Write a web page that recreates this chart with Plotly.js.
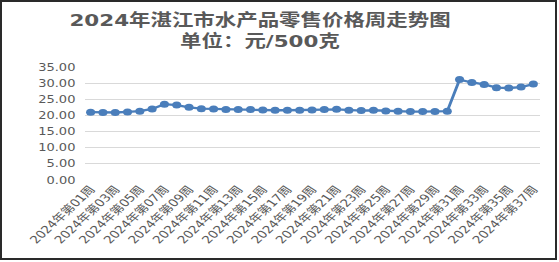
<!DOCTYPE html>
<html>
<head>
<meta charset="utf-8">
<script src="https://cdn.plot.ly/plotly-3.0.1.min.js"></script>
<style>
  html, body { margin: 0; padding: 0; background: #fff; }
  #wrap { position: relative; width: 559px; height: 262px; overflow: hidden; background: #fff; }
  #chart { position: absolute; left: 0; top: 0; width: 430px; height: 262px; transform: scaleX(1.3); transform-origin: 0 0; }
  #frame { position: absolute; left: 0; top: 0; width: 557px; height: 260px; box-sizing: border-box; border: 2px solid #2a2a2a; pointer-events: none; }
</style>
</head>
<body>
<div id="wrap">
  <div id="chart"></div>
  <div id="frame"></div>
</div>
<script>
const weeks = [
  "2024年第01周","2024年第02周","2024年第03周","2024年第04周","2024年第05周",
  "2024年第06周","2024年第07周","2024年第08周","2024年第09周","2024年第10周",
  "2024年第11周","2024年第12周","2024年第13周","2024年第14周","2024年第15周",
  "2024年第16周","2024年第17周","2024年第18周","2024年第19周","2024年第20周",
  "2024年第21周","2024年第22周","2024年第23周","2024年第24周","2024年第25周",
  "2024年第26周","2024年第27周","2024年第28周","2024年第29周","2024年第30周",
  "2024年第31周","2024年第32周","2024年第33周","2024年第34周","2024年第35周",
  "2024年第36周","2024年第37周"
];
const prices = [
  21.0, 20.9, 20.9, 21.1, 21.3, 22.0, 23.5, 23.2, 22.5, 22.1,
  22.0, 21.8, 21.8, 21.8, 21.7, 21.6, 21.6, 21.6, 21.7, 21.8,
  21.9, 21.6, 21.5, 21.6, 21.4, 21.3, 21.2, 21.2, 21.2, 21.3,
  31.1, 30.2, 29.6, 28.6, 28.5, 28.8, 29.7
];
const shownWeeks = weeks.filter((w, i) => i % 2 === 0);
const titleText = "2024年湛江市水产品零售价格周走势图<br>单位：元/500克";

const fontFam = "'DejaVu Sans', 'Noto Sans CJK SC', sans-serif";

Plotly.newPlot('chart', [{
  x: weeks,
  y: prices,
  type: 'scatter',
  mode: 'lines+markers',
  line: { color: '#4a7ebb', width: 2.3 },
  marker: { color: '#4a7ebb', size: 7 },
  hoverinfo: 'x+y'
}], {
  width: 430,
  height: 262,
  margin: { l: 65.4, r: 15.4, t: 66.7, b: 82 },
  paper_bgcolor: '#ffffff',
  plot_bgcolor: '#ffffff',
  showlegend: false,
  title: {
    text: titleText,
    x: 200 / 430,
    xref: 'container',
    xanchor: 'center',
    y: 1 - 26 / 262,
    yref: 'container',
    yanchor: 'top',
    font: { family: fontFam, size: 16.5, color: '#595959', weight: 'bold' }
  },
  xaxis: {
    type: 'category',
    tickmode: 'array',
    tickvals: shownWeeks,
    ticktext: shownWeeks,
    tickangle: -50,
    tickfont: { family: fontFam, size: 10.5, color: '#595959' },
    showgrid: false,
    showline: false,
    zeroline: false,
    ticks: '',
    range: [-0.5, 36.5],
    fixedrange: true
  },
  yaxis: {
    range: [0, 35],
    dtick: 5,
    tick0: 0,
    tickformat: '.2f',
    tickfont: { family: fontFam, size: 10, color: '#595959' },
    showgrid: true,
    gridcolor: '#d9d9d9',
    gridwidth: 1,
    zeroline: false,
    showline: false,
    ticks: '',
    ticklabelstandoff: 6,
    fixedrange: true
  }
}, { displayModeBar: false, staticPlot: true });
</script>
</body>
</html>
